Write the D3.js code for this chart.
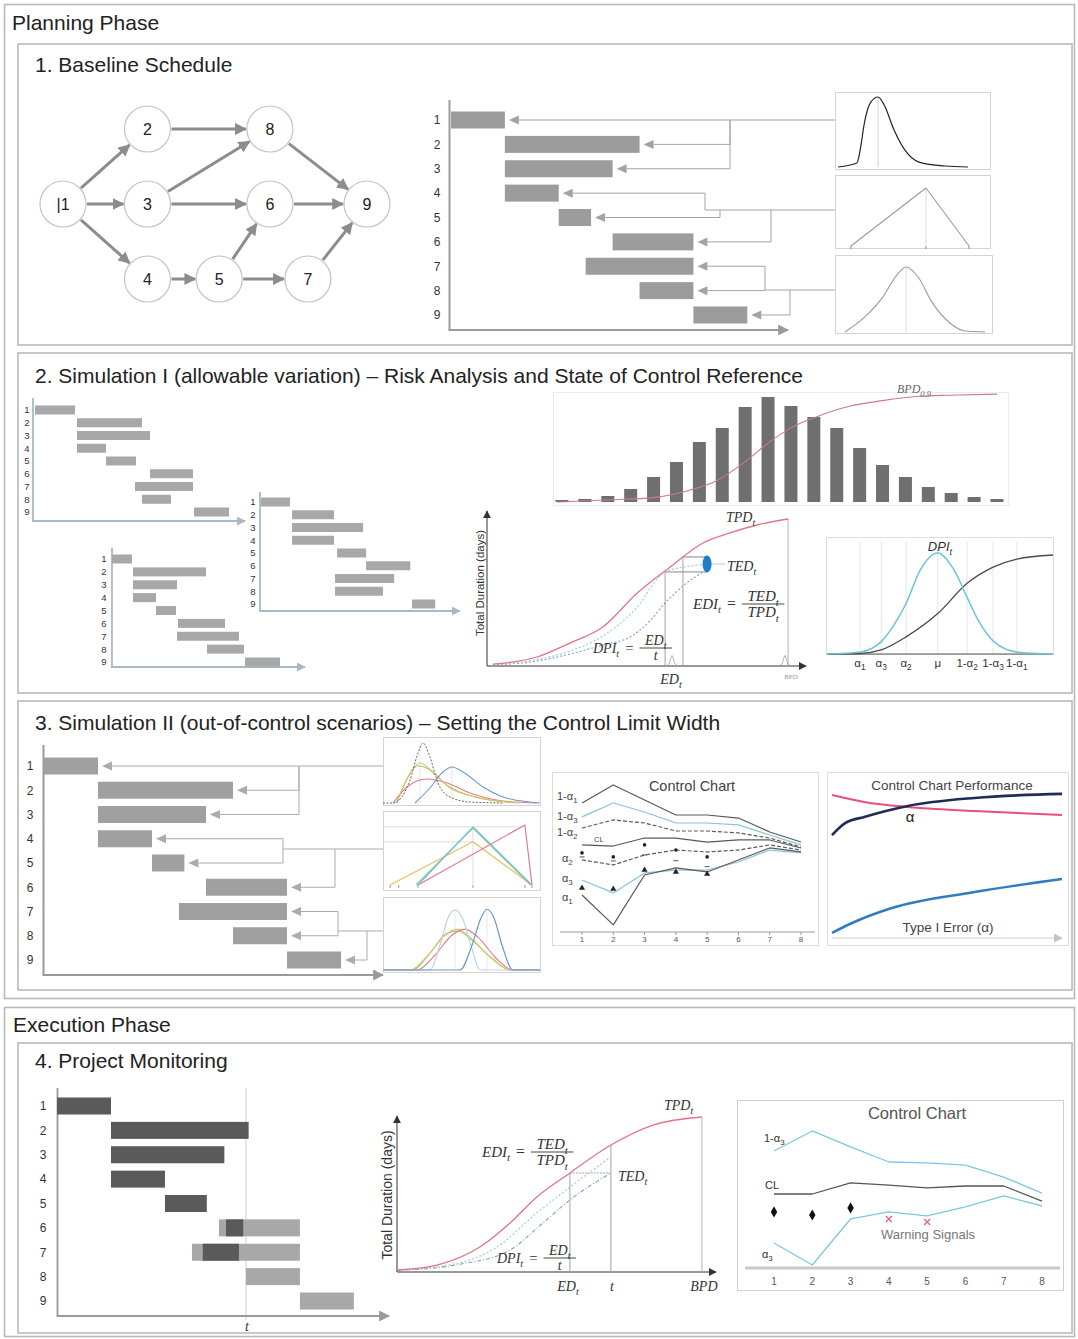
<!DOCTYPE html>
<html>
<head>
<meta charset="utf-8">
<title>Project control framework</title>
<script src="https://cdn.jsdelivr.net/npm/d3@7/dist/d3.min.js"></script>
<style>
  html, body { margin: 0; padding: 0; background: #fff; }
  svg { display: block; }
  text { font-family: "Liberation Sans", Arial, sans-serif; fill: #222; }
  text.math { font-family: "Liberation Serif", "DejaVu Serif", serif; font-style: italic; fill: #333; }
  text.eq { font-family: "Liberation Serif", "DejaVu Serif", serif; fill: #333; }
</style>
</head>
<body>
<script>
// ================= DATA =================
const phaseTitles = ["Planning Phase", "Execution Phase"];
const stepTitles = [
  "1. Baseline Schedule",
  "2. Simulation I (allowable variation) – Risk Analysis and State of Control Reference",
  "3. Simulation II (out-of-control scenarios) – Setting the Control Limit Width",
  "4. Project Monitoring"
];

// project network (activity-on-node)
const activities = ["1","2","3","4","5","6","7","8","9"];
const nodeLabels = ["|1","2","3","4","5","6","7","8","9"];
const nodeStage  = [0, 1, 1, 1, 1.85, 2.45, 2.9, 2.45, 3.6];
const nodeLevel  = [1, 0, 1, 2, 2, 1, 2, 0, 1];
const precedences = [["1","2"],["1","3"],["1","4"],["2","8"],["3","8"],["3","6"],
                     ["4","5"],["5","6"],["5","7"],["6","9"],["7","9"],["8","9"]];

// baseline schedule (days)
const baselineStart = [0, 2, 2, 2, 4, 6, 5, 7, 9];
const baselineEnd   = [2, 7, 6, 4, 5.2, 9, 9, 9, 11];

// activity duration distributions [duration %, relative density]
const durLognormal  = [[1.3,0],[13.6,5.7],[16.2,31],[18.2,60],[22.7,93],[27.3,100],[31.2,89],[37.7,53],[44.8,24],[53.9,7],[70.8,1.4],[85.7,0]];
const durTriangular = [[9.7,0],[58.4,1],[86.4,0]];
const durNormal     = [[5.8,0],[18.2,0.22],[29.9,0.52],[39.6,0.88],[45.5,1],[53.2,0.85],[62.3,0.46],[73.4,0.15],[83.1,0.02],[96.8,0]];

// three Monte Carlo runs (days)
const runAStart = [0, 2.1, 2.1, 2.1, 3.55, 5.75, 5.0, 5.35, 7.95];
const runAEnd   = [2, 5.35, 5.75, 3.55, 5.05, 7.9, 7.9, 6.8, 9.7];
const runBStart = [0, 2.14, 2.14, 2.14, 5.24, 7.24, 5.1, 5.1, 10.4];
const runBEnd   = [2, 5.03, 7.03, 5.03, 7.24, 10.28, 9.17, 8.4, 12.0];
const runCStart = [0, 2.1, 2.1, 2.1, 4.4, 6.6, 6.5, 9.5, 13.3];
const runCEnd   = [2, 9.4, 6.5, 4.4, 6.4, 11.3, 12.7, 13.2, 16.8];

// simulated project durations: frequencies and cumulative share
const durationFreq = [2,3,6,13,25,40,60,74,95,105,96,85,74,54,37,25,15,9,5,3];
const durationCum  = [[-0.2,0],[2.1,0.02],[4,0.04],[5.6,0.11],[6.8,0.2],[8,0.37],[9,0.54],[10,0.68],[11.1,0.78],[12.6,0.88],[14,0.93],[15.6,0.97],[16.9,0.98],[19,0.99]];

// simulation S-curves [time %, total duration %]
const simTPD = [[1.9,1.3],[16,6],[26.5,15.3],[37,26],[48,48.7],[58.5,66],[69,82],[77.6,88.7],[86.3,94],[96.2,98]];
const simEDa = [[1.9,1.0],[15,4],[26.5,10],[37,20],[47,37],[56.9,62.7],[63,66],[69,67.5]];
const simEDb = [[1.9,0.8],[15,3],[26.5,8],[37,14],[45.7,19.3],[52,30],[56.9,42],[63,54],[69,62.7]];
const simRefs = { ed: 56.9, t: 62.6, bpd: 96.2, edLevel: 62.7, tpdLevel: 72.7, tedX: 70.3, tedLevel: 68, edPeak: 59.1, bpdPeak: 95.2 };
const smallPeak = [[-1.8,0],[-0.9,1.5],[-0.35,5.5],[0,7],[0.35,5.5],[0.9,1.5],[1.8,0]];

// DPI distribution with control limit levels
const alphaLabels   = ["α_1","α_3","α_2","μ","1-α_2","1-α_3","1-α_1"];
const alphaPos      = [14.6, 24, 35, 49, 62, 73.5, 84];
const dpiDensity    = [[0,0],[14.6,0.02],[23.9,0.12],[30,0.3],[35,0.5],[41,0.82],[49,1],[56,0.84],[62,0.56],[67,0.33],[73.5,0.13],[84,0.02],[100,0]];
const dpiCumulative = [[0,0],[14.6,0.005],[23.9,0.04],[35,0.17],[49,0.4],[62,0.7],[73.5,0.86],[84,0.94],[100,0.98]];

// out-of-control duration scenarios
const scenTopRef    = [[0,0],[6.4,0],[17.2,37],[22.3,80.6],[25.5,96.8],[29.9,74.2],[35,32.3],[42.7,9.7],[55.4,1.6],[76.4,0]];
const scenTopYellow = [[8.9,0],[17.2,48.4],[23.6,64.5],[31.8,50],[42.7,24.2],[61.8,8.1],[87.3,0]];
const scenTopGreen  = [[8.5,0],[16,42],[22,60],[29,55],[40,30],[58,10],[85,0]];
const scenTopPink   = [[6.4,0],[15.3,25.8],[28,38.7],[40.8,32.3],[55.4,16.1],[76.4,3.2],[98,0]];
const scenTopBlue   = [[20.4,0],[29.9,24.2],[38.2,50],[43.9,58.1],[51,50],[63.7,25.8],[76.4,9.7],[93.6,1.6],[100,0]];
const scenMidBlue   = [[22.3,0],[57.3,0.97],[94.9,0]];
const scenMidGreen  = [[21,0],[57.3,0.95],[94,0]];
const scenMidYellow = [[4.5,0],[57.3,0.72],[94.9,0]];
const scenMidPink   = [[22.3,0],[90.4,1],[94.9,0]];
const scenLowRef    = [[0,0],[29.9,0],[36.3,0.4],[41.4,0.84],[45.9,0.97],[51,0.81],[56,0.4],[61.8,0],[100,0]];
const scenLowBlue   = [[0,0],[49,0],[56.7,0.4],[62.4,0.84],[66.2,0.98],[70.7,0.84],[75.8,0.4],[82.8,0],[100,0]];
const scenLowPink   = [[0,0],[21.7,0],[33.1,0.24],[43.9,0.56],[52.2,0.66],[60.5,0.53],[71.3,0.21],[82.8,0],[100,0]];
const scenLowYellow = [[0,0],[17.2,0],[28.7,0.24],[39.5,0.56],[47.1,0.66],[55.4,0.53],[68.2,0.21],[80.9,0],[100,0]];
const scenLowGreen  = [[0,0],[18.5,0],[29.9,0.27],[40,0.58],[47.8,0.63],[56.7,0.48],[69.4,0.19],[80.9,0],[100,0]];

// control chart limits per review period
const periods   = [1,2,3,4,5,6,7,8];
const limUp1    = [82.5,93.8,84.4,75,75,73.1,64.4,58.1];
const limUp3    = [73.8,82.5,76.9,70,70,68.8,62.5,56.3];
const limUp2    = [66.9,71.9,70,65,65,63.8,60.6,55];
const limCenter = [56.3,55.6,60.6,60.6,58.1,59.4,59.4,54.4];
const limLow2   = [46.9,43.8,50,53.1,51.9,53.1,56.3,53.1];
const limLow3   = [34.4,26.3,38.8,40.6,40.6,45.6,53.1,51.3];
const limLow1   = [25,6.3,37.5,41.9,39.4,46.9,54.4,51.9];
const obsDots   = [51.3,48.8,56.3,53.1,48.8];
const obsDashes = [48.8,46.3,50,46.4,42.7];
const obsTri    = [29.4,28.8,40.6,39.4,38.1];

// control chart performance vs. type I error
const perfPink = [[0,90.6],[0.14,86.3],[0.33,83.1],[0.62,80.6],[1,78.1]];
const perfNavy = [[0,65.6],[0.057,73.1],[0.14,76.9],[0.33,83.8],[0.62,88.8],[1,91.3]];
const perfBlue = [[0,4.4],[0.087,10.6],[0.26,20],[0.62,30],[1,38.1]];

// project monitoring
const actualStart = [0, 2, 2, 2, 4, 6.26, 5.4, null, null];
const actualEnd   = [2, 7.1, 6.2, 4, 5.55, 6.9, 6.74, null, null];
const statusTime  = 7;
const monTPD = [[0,1.3],[12.7,4.5],[26.3,16.1],[35.9,31.6],[44.4,48.4],[54.9,63.9],[67.9,81.9],[81.3,94.8],[96.8,100]];
const monEDa = [[0,1.3],[20,6],[31.7,16.1],[44.4,38.1],[54.9,54.8],[67.9,74.2]];
const monEDb = [[0,1.0],[20,5],[35.9,14.2],[46.3,31.6],[54.9,46.5],[67.9,63.9]];
const monRefs = { ed: 54.9, t: 67.9, bpd: 96.8, edLevel: 63.9, tpdLevel: 81.9 };
const monUpper    = [71.9,84.4,74.4,65,64.4,63.1,55.6,45.6];
const monCenter   = [45,45,51.9,50.6,48.8,50,50,40.6];
const monLower    = [14.4,0.6,29.4,33.8,31.3,36.9,43.8,37.5];
const monObserved = [33.8,31.9,36.3];
const monWarnPeriods = [4,5];
const monWarnValues  = [29.4,27.5];

// ================= DRAWING =================
const W = 1078, H = 1339;
const svg = d3.select("body").append("svg").attr("width", W).attr("height", H);
svg.append("rect").attr("width", W).attr("height", H).attr("fill", "#fff");
const defs = svg.append("defs");

function marker(id, color, size) {
  defs.append("marker").attr("id", id).attr("viewBox", "0 0 10 10")
    .attr("refX", 9).attr("refY", 5).attr("markerWidth", size).attr("markerHeight", size)
    .attr("markerUnits", "userSpaceOnUse").attr("orient", "auto")
    .append("path").attr("d", "M0,0L10,5L0,10z").attr("fill", color);
}
marker("arrNet", "#8c8c8c", 12);
marker("arrGray", "#9a9a9a", 11);
marker("arrBlue", "#a9b8c6", 9);
marker("arrDark", "#333", 8);
marker("arrLight", "#c4c4c4", 9);

// text with "_x" subscripts
function rich(sel, str, fs) {
  const parts = str.split(/_([\w.]+)/);
  let shifted = false;
  parts.forEach((p, i) => {
    if (p === "") return;
    const ts = sel.append("tspan").text(p);
    if (i % 2 === 1) { ts.attr("dy", fs * 0.3).attr("font-size", fs * 0.72); shifted = true; }
    else if (shifted) { ts.attr("dy", -fs * 0.3); shifted = false; }
  });
  return sel;
}
function label(g, x, y, str, fs, o = {}) {
  const t = g.append("text").attr("x", x).attr("y", y).attr("font-size", fs);
  if (o.anchor) t.attr("text-anchor", o.anchor);
  if (o.fill) t.style("fill", o.fill);
  if (o.cls) t.attr("class", o.cls);
  return rich(t, str, fs);
}
// "lhs = num / den" with a horizontal fraction bar at height y
function fracEq(g, x, y, lhs, num, den, fs) {
  const l = label(g, x, y + fs * 0.33, lhs, fs, { cls: "math" });
  const lw = l.node().getComputedTextLength();
  const eqX = x + lw + 6;
  g.append("text").attr("class", "eq").attr("x", eqX).attr("y", y + fs * 0.33).attr("font-size", fs * 1.05).text("=");
  const fx = eqX + fs * 0.6 + 6;
  const n = label(g, 0, y - 3, num, fs, { cls: "math", anchor: "middle" });
  const d = label(g, 0, y + fs * 0.88, den, fs, { cls: "math", anchor: "middle" });
  const w = Math.max(n.node().getComputedTextLength(), d.node().getComputedTextLength()) + 11;
  n.attr("x", fx + w / 2); d.attr("x", fx + w / 2);
  g.append("line").attr("x1", fx).attr("x2", fx + w).attr("y1", y).attr("y2", y).attr("stroke", "#333").attr("stroke-width", 0.9);
}
function curve(g, pts, xs, ys, stroke, width, dash, type) {
  return g.append("path").datum(pts)
    .attr("d", d3.line().x(d => xs(d[0])).y(d => ys(d[1])).curve(type || d3.curveMonotoneX))
    .attr("fill", "none").attr("stroke", stroke).attr("stroke-width", width)
    .attr("stroke-dasharray", dash || null).attr("stroke-linejoin", "round");
}
function seg(g, x1, y1, x2, y2, stroke, width, dash) {
  return g.append("line").attr("x1", x1).attr("y1", y1).attr("x2", x2).attr("y2", y2)
    .attr("stroke", stroke).attr("stroke-width", width).attr("stroke-dasharray", dash || null);
}
function frame(g, x, y, w, h, stroke, width) {
  return g.append("rect").attr("x", x).attr("y", y).attr("width", w).attr("height", h)
    .attr("fill", "none").attr("stroke", stroke).attr("stroke-width", width || 1);
}

// ---------- panels & headings ----------
const panels = svg.append("g");
frame(panels, 4.5, 4.5, 1070, 994, "#b9b9b9", 1.6);
frame(panels, 18, 44, 1054, 301, "#b9b9b9", 1.6);
frame(panels, 18, 353, 1054, 340, "#b9b9b9", 1.6);
frame(panels, 18, 701, 1054, 289, "#b9b9b9", 1.6);
frame(panels, 4.5, 1007.5, 1070, 329, "#b9b9b9", 1.6);
frame(panels, 18, 1043, 1054, 290, "#b9b9b9", 1.6);
label(panels, 12, 30, phaseTitles[0], 21);
label(panels, 13, 1032, phaseTitles[1], 21);
[72, 383, 730, 1068].forEach((y, i) => label(panels, 35, y, stepTitles[i], 21));

// ---------- gantt helper ----------
function gantt(g, o) {
  seg(g, o.axisX, o.axisTop, o.axisX, o.axisBottom, o.axisColor, o.axisW);
  seg(g, o.axisX - o.axisW / 2, o.axisBottom, o.axisEnd, o.axisBottom, o.axisColor, o.axisW).attr("marker-end", `url(#${o.marker})`);
  activities.forEach((a, i) => {
    label(g, o.labelX, o.ys(a) + o.labelFs * 0.36, a, o.labelFs, { anchor: "middle", fill: "#333" });
  });
  const bars = activities.map((a, i) => ({ a, s: o.start[i], e: o.end[i] })).filter(d => d.s != null);
  g.append("g").selectAll("rect").data(bars).join("rect")
    .attr("x", d => o.xs(d.s)).attr("width", d => o.xs(d.e) - o.xs(d.s))
    .attr("y", d => o.ys(d.a) - o.h / 2).attr("height", o.h).attr("fill", o.fill);
}
// connectors from distribution boxes to bar ends
function connectors(g, xs, ys, ends, groups, boxX, color) {
  groups.forEach(gr => {
    gr.rows.forEach((r, k) => {
      const y = ys(activities[r]), xe = xs(ends[r]);
      g.append("path").attr("d", `M${xe + 4},${y}L${xe + 14},${y - 4.5}L${xe + 14},${y + 4.5}Z`).attr("fill", color);
      g.append("path").attr("d", `M${xe + 14},${y}H${gr.stubs[k]}V${gr.trunkY}`)
        .attr("fill", "none").attr("stroke", color).attr("stroke-width", 1);
    });
    seg(g, d3.min(gr.stubs), gr.trunkY, boxX, gr.trunkY, color, 1);
  });
}

// ================= 1. Baseline schedule =================
const s1 = svg.append("g");
{
  const nx = d3.scaleLinear([0, 3.6], [63, 367]);
  const ny = d3.scaleLinear([0, 2], [129, 279]);
  const pos = {};
  activities.forEach((a, i) => pos[a] = [nx(nodeStage[i]), ny(nodeLevel[i])]);
  const r = 23;
  precedences.forEach(([f, t]) => {
    const [x1, y1] = pos[f], [x2, y2] = pos[t];
    const L = Math.hypot(x2 - x1, y2 - y1), ux = (x2 - x1) / L, uy = (y2 - y1) / L;
    seg(s1, x1 + ux * (r + 1), y1 + uy * (r + 1), x2 - ux * (r + 1), y2 - uy * (r + 1), "#8c8c8c", 3)
      .attr("marker-end", "url(#arrNet)");
  });
  activities.forEach((a, i) => {
    s1.append("circle").attr("cx", pos[a][0]).attr("cy", pos[a][1]).attr("r", r)
      .attr("fill", "#fff").attr("stroke", "#c4c4c4").attr("stroke-width", 1.2);
    label(s1, pos[a][0], pos[a][1] + 6, nodeLabels[i], 16, { anchor: "middle" });
  });

  const xs = d3.scaleLinear([0, 12.4], [451, 785]);
  const ys = d3.scalePoint(activities, [120, 315]);
  gantt(s1, { xs, ys, start: baselineStart, end: baselineEnd, h: 17, fill: "#9c9c9c",
    axisX: 449.5, axisTop: 100, axisBottom: 330, axisEnd: 788, axisColor: "#9a9a9a", axisW: 2,
    marker: "arrGray", labelX: 437, labelFs: 12 });
  connectors(s1, xs, ys, baselineEnd, [
    { rows: [0, 1, 2], stubs: [730, 730, 730], trunkY: ys("1") },
    { rows: [3, 4, 5], stubs: [705, 720, 771], trunkY: 210 },
    { rows: [6, 7, 8], stubs: [765, 765, 790], trunkY: 290 }
  ], 835, "#a3a3a3");

  // distribution boxes
  const bx = d3.scaleLinear([0, 100], [836, 990]);
  frame(s1, 835.5, 92.5, 155, 77, "#d4d4d4");
  frame(s1, 835.5, 175.5, 155, 73, "#d4d4d4");
  frame(s1, 835.5, 255.5, 157, 78, "#d4d4d4");
  const by1 = d3.scaleLinear([0, 100], [167, 97]);
  seg(s1, bx(27.3), by1(0), bx(27.3), by1(100), "#c8c8c8", 0.8);
  curve(s1, durLognormal, bx, by1, "#222", 1.2);
  const by2 = d3.scaleLinear([0, 1], [246, 188]);
  seg(s1, bx(58.4), by2(0), bx(58.4), by2(1), "#cfcfcf", 0.8);
  durTriangular.forEach(p => seg(s1, bx(p[0]), by2(0), bx(p[0]), by2(0) + 3, "#888", 1));
  curve(s1, durTriangular, bx, by2, "#9a9a9a", 1.1, null, d3.curveLinear);
  const by3 = d3.scaleLinear([0, 1], [332, 267]);
  seg(s1, bx(45.5), by3(0), bx(45.5), by3(1), "#d0d0d0", 0.8);
  curve(s1, durNormal, bx, by3, "#9a9a9a", 1.1);
}

// ================= 2. Simulation I =================
const s2 = svg.append("g");
{
  const runs = [
    { start: runAStart, end: runAEnd, dom: 10.35, x: [35, 242], rows: [410, 512], axisX: 33, top: 398, bottom: 521, labelX: 27 },
    { start: runBStart, end: runBEnd, dom: 13.5, x: [261, 457], rows: [502, 604], axisX: 260, top: 492, bottom: 611, labelX: 253 },
    { start: runCStart, end: runCEnd, dom: 19, x: [112, 302], rows: [559, 662], axisX: 112, top: 548, bottom: 667, labelX: 104 }
  ];
  runs.forEach(r => {
    const g = s2.append("g");
    const xs = d3.scaleLinear([0, r.dom], r.x);
    const ys = d3.scalePoint(activities, r.rows);
    gantt(g, { xs, ys, start: r.start, end: r.end, h: 9, fill: "#a8a8a8",
      axisX: r.axisX, axisTop: r.top, axisBottom: r.bottom, axisEnd: r.x[1] + 3, axisColor: "#a9b8c6", axisW: 1.8,
      marker: "arrBlue", labelX: r.labelX, labelFs: 9.5 });
  });

  // project duration histogram
  const hx = d3.scaleLinear([0, 19], [562, 997]);
  const hy = d3.scaleLinear([0, 105], [502, 397]);
  const cy = d3.scaleLinear([0, 1], [502, 393]);
  frame(s2, 553.5, 392.5, 455, 113, "#ececec");
  s2.append("g").selectAll("rect").data(durationFreq).join("rect")
    .attr("x", (d, i) => hx(i) - 6.5).attr("width", 13)
    .attr("y", d => hy(d)).attr("height", d => hy(0) - hy(d)).attr("fill", "#6f6f6f");
  curve(s2, durationCum, hx, cy, "#c97c88", 1.1);
  label(s2, 897, 393, "BPD_0.9", 12, { cls: "math", fill: "#666" });

  // S-curve
  const sx = d3.scaleLinear([0, 100], [487, 800]);
  const sy = d3.scaleLinear([0, 100], [666, 516]);
  seg(s2, sx(0), sy(0), sx(0), 511, "#333", 1).attr("marker-end", "url(#arrDark)");
  seg(s2, sx(0), sy(0), 806, sy(0), "#333", 1).attr("marker-end", "url(#arrDark)");
  label(s2, 0, 0, "Total Duration (days)", 11.5, { anchor: "middle", fill: "#333" })
    .attr("transform", `translate(484,583) rotate(-90)`);
  seg(s2, sx(simRefs.ed), sy(simRefs.edLevel), sx(simRefs.ed), sy(0), "#999", 0.9);
  seg(s2, sx(simRefs.t), sy(simRefs.tpdLevel), sx(simRefs.t), sy(0), "#999", 0.9);
  seg(s2, sx(simRefs.bpd), sy(98), sx(simRefs.bpd), sy(0), "#aaa", 0.9);
  seg(s2, sx(simRefs.t), sy(simRefs.tpdLevel), sx(simRefs.tedX), sy(simRefs.tpdLevel), "#777", 0.9);
  seg(s2, sx(simRefs.ed), sy(simRefs.edLevel), sx(simRefs.tedX), sy(simRefs.edLevel), "#777", 0.9);
  seg(s2, sx(simRefs.tedX) + 4, sy(simRefs.tedLevel), sx(simRefs.tedX) + 18, sy(simRefs.tedLevel), "#c8c8c8", 1);
  curve(s2, simEDb, sx, sy, "#7f9fd0", 1.1, "2,2");
  curve(s2, simEDa, sx, sy, "#93cbe2", 1.1, "2,2");
  curve(s2, simTPD, sx, sy, "#e07585", 1.3);
  s2.append("ellipse").attr("cx", sx(simRefs.tedX)).attr("cy", sy(simRefs.tedLevel)).attr("rx", 4.5).attr("ry", 8.5).attr("fill", "#1d7fc8");
  [simRefs.edPeak, simRefs.bpdPeak].forEach(c => {
    curve(s2, smallPeak.map(p => [c + p[0], p[1]]), sx, sy, "#aaa", 0.9, null, d3.curveLinear);
  });
  label(s2, 726, 522, "TPD_t", 14, { cls: "math" });
  label(s2, 727, 571, "TED_t", 14, { cls: "math" });
  label(s2, 671, 684, "ED_t", 14, { cls: "math", anchor: "middle" });
  label(s2, 791, 679, "BPD", 7, { cls: "eq", anchor: "middle", fill: "#999" });
  fracEq(s2, 693, 604, "EDI_t", "TED_t", "TPD_t", 15);
  fracEq(s2, 593, 648, "DPI_t", "ED_t", "t", 14);

  // DPI distribution
  const dx = d3.scaleLinear([0, 100], [827, 1053]);
  const dy = d3.scaleLinear([0, 1], [654, 553]);
  frame(s2, 826.5, 537.5, 227, 117, "#dedede");
  alphaPos.forEach(p => seg(s2, dx(p), 541, dx(p), dy(0), "#e6e6e6", 1));
  seg(s2, dx(0), dy(0), dx(100), dy(0), "#555", 1);
  curve(s2, dpiCumulative, dx, dy, "#4a4a4a", 1.3);
  curve(s2, dpiDensity, dx, dy, "#6cc4db", 1.5);
  label(s2, 940, 551, "DPI_t", 13, { anchor: "middle", fill: "#333" }).style("font-style", "italic");
  alphaLabels.forEach((a, i) => label(s2, dx(alphaPos[i]), 667, a, 11.5, { anchor: "middle", fill: "#333" }));
}

// ================= 3. Simulation II =================
const s3 = svg.append("g");
{
  const xs = d3.scaleLinear([0, 12.5], [44, 381.5]);
  const ys = d3.scalePoint(activities, [766, 960]);
  gantt(s3, { xs, ys, start: baselineStart, end: baselineEnd, h: 17, fill: "#a0a0a0",
    axisX: 43.5, axisTop: 745, axisBottom: 975, axisEnd: 383, axisColor: "#9a9a9a", axisW: 2,
    marker: "arrGray", labelX: 30, labelFs: 12 });
  connectors(s3, xs, ys, baselineEnd, [
    { rows: [0, 1, 2], stubs: [299, 299, 299], trunkY: ys("1") },
    { rows: [3, 4, 5], stubs: [283, 283, 335], trunkY: 849 },
    { rows: [6, 7, 8], stubs: [338, 338, 367], trunkY: 931 }
  ], 383, "#ababab");

  const bx = d3.scaleLinear([0, 100], [383, 540]);
  frame(s3, 383.5, 737.5, 157, 68, "#d4d4d4");
  frame(s3, 383.5, 811.5, 157, 79, "#d4d4d4");
  frame(s3, 383.5, 897.5, 157, 75, "#d4d4d4");

  const ya = d3.scaleLinear([0, 100], [803, 741]);
  seg(s3, bx(23.6), ya(0), bx(23.6), ya(100), "#e0e0e0", 0.8);
  seg(s3, bx(43.9), ya(0), bx(43.9), ya(60), "#e0e0e0", 0.8);
  curve(s3, scenTopPink, bx, ya, "#e07a8c", 1.1);
  curve(s3, scenTopGreen, bx, ya, "#8cc98a", 1.1);
  curve(s3, scenTopYellow, bx, ya, "#e3c35a", 1.1);
  curve(s3, scenTopBlue, bx, ya, "#6b98cf", 1.1);
  curve(s3, scenTopRef, bx, ya, "#666", 1, "2,1.5");

  const yb = d3.scaleLinear([0, 1], [885, 825]);
  seg(s3, bx(0), yb(0.97), bx(90), yb(0.97), "#d4d4d4", 0.8);
  seg(s3, bx(0), yb(0.72), bx(57.3), yb(0.72), "#d4d4d4", 0.8);
  seg(s3, bx(57.3), yb(0), bx(57.3), yb(0.97), "#d4d4d4", 0.8);
  [4.5, 10, 22.3, 57.3, 90.4, 94.9].forEach(v => seg(s3, bx(v), yb(0), bx(v), yb(0) + 3, "#999", 1));
  curve(s3, scenMidYellow, bx, yb, "#e3c35a", 1.2, null, d3.curveLinear);
  curve(s3, scenMidPink, bx, yb, "#e07a8c", 1.2, null, d3.curveLinear);
  curve(s3, scenMidGreen, bx, yb, "#8cc98a", 1.2, null, d3.curveLinear);
  curve(s3, scenMidBlue, bx, yb, "#78c0dc", 1.2, null, d3.curveLinear);

  const yc = d3.scaleLinear([0, 1], [970, 908]);
  seg(s3, bx(45.9), yc(0), bx(45.9), yc(0.97), "#e2e2e2", 0.8);
  seg(s3, bx(66.2), yc(0), bx(66.2), yc(0.98), "#e2e2e2", 0.8);
  curve(s3, scenLowGreen, bx, yc, "#8cc98a", 1.1);
  curve(s3, scenLowYellow, bx, yc, "#e3c35a", 1.1);
  curve(s3, scenLowPink, bx, yc, "#e07a8c", 1.1);
  curve(s3, scenLowRef, bx, yc, "#bcd3e6", 1.2);
  curve(s3, scenLowBlue, bx, yc, "#6b98cf", 1.2);

  // control chart with nested limits
  frame(s3, 552.5, 772.5, 266, 173, "#dcdcdc");
  label(s3, 692, 791, "Control Chart", 14.5, { anchor: "middle", fill: "#444" });
  const cx = d3.scaleLinear([1, 8], [582, 801]);
  const cy = d3.scaleLinear([0, 100], [935, 775]);
  seg(s3, 560, 932, 815, 932, "#9a9a9a", 1);
  periods.forEach(p => {
    seg(s3, cx(p), 932, cx(p), 935, "#9a9a9a", 1);
    label(s3, cx(p), 942, String(p), 8, { anchor: "middle", fill: "#555" });
  });
  const lines = [
    [limUp1, "#595959", null], [limUp3, "#86c4de", null], [limUp2, "#595959", "4,2"],
    [limCenter, "#595959", null], [limLow2, "#595959", "4,2"], [limLow3, "#86c4de", null], [limLow1, "#595959", null]
  ];
  lines.forEach(([v, c, dsh]) => curve(s3, periods.map((p, i) => [p, v[i]]), cx, cy, c, 1.2, dsh, d3.curveLinear));
  obsDots.forEach((v, i) => s3.append("circle").attr("cx", cx(periods[i])).attr("cy", cy(v)).attr("r", 1.8).attr("fill", "#222"));
  obsDashes.forEach((v, i) => seg(s3, cx(periods[i]) - 2.5, cy(v), cx(periods[i]) + 2.5, cy(v), "#555", 1));
  obsTri.forEach((v, i) => s3.append("path").attr("d", d3.symbol(d3.symbolTriangle, 16)())
    .attr("transform", `translate(${cx(periods[i])},${cy(v)})`).attr("fill", "#222"));
  label(s3, 557, 800, "1-α_1", 11, { fill: "#444" });
  label(s3, 557, 820, "1-α_3", 11, { fill: "#444" });
  label(s3, 557, 836, "1-α_2", 11, { fill: "#444" });
  label(s3, 594, 842, "CL", 7.5, { fill: "#444" });
  label(s3, 562, 862, "α_2", 11, { fill: "#444" });
  label(s3, 562, 882, "α_3", 11, { fill: "#444" });
  label(s3, 562, 901, "α_1", 11, { fill: "#444" });

  // control chart performance
  frame(s3, 827.5, 772.5, 241, 173, "#dcdcdc");
  label(s3, 952, 790, "Control Chart Performance", 13.5, { anchor: "middle", fill: "#444" });
  const px = d3.scaleLinear([0, 1], [832, 1062]);
  const py = d3.scaleLinear([0, 100], [940, 780]);
  seg(s3, 832, 938, 1062, 938, "#cfcfcf", 1).attr("marker-end", "url(#arrLight)");
  curve(s3, perfPink, px, py, "#e7507c", 2);
  curve(s3, perfNavy, px, py, "#1f2c55", 2.6);
  curve(s3, perfBlue, px, py, "#2f7cc0", 2.6);
  label(s3, 910, 822, "α", 15, { anchor: "middle", fill: "#222" });
  label(s3, 948, 932, "Type I Error (α)", 13.5, { anchor: "middle", fill: "#444" });
}

// ================= 4. Project monitoring =================
const s4 = svg.append("g");
{
  const xs = d3.scaleLinear([0, 12.3], [57, 389]);
  const ys = d3.scalePoint(activities, [1106, 1301]);
  seg(s4, xs(statusTime), 1088, xs(statusTime), 1320, "#cfcfcf", 1);
  const plannedStart = baselineStart.map((s, i) => actualEnd[i] != null && i < 5 ? null : s);
  gantt(s4, { xs, ys, start: plannedStart, end: baselineEnd, h: 17, fill: "#a8a8a8",
    axisX: 57.5, axisTop: 1088, axisBottom: 1316, axisEnd: 389, axisColor: "#9a9a9a", axisW: 1.8,
    marker: "arrGray", labelX: 43, labelFs: 12 });
  const done = activities.map((a, i) => ({ a, s: actualStart[i], e: actualEnd[i] })).filter(d => d.s != null);
  s4.append("g").selectAll("rect").data(done).join("rect")
    .attr("x", d => xs(d.s)).attr("width", d => xs(d.e) - xs(d.s))
    .attr("y", d => ys(d.a) - 8.5).attr("height", 17).attr("fill", "#5a5a5a");
  label(s4, xs(statusTime) + 1, 1331, "t", 14, { cls: "math", anchor: "middle" });

  // S-curve
  const mx = d3.scaleLinear([0, 100], [397, 712]);
  const my = d3.scaleLinear([0, 100], [1272, 1117]);
  seg(s4, mx(0), my(0), mx(0), 1116, "#333", 1).attr("marker-end", "url(#arrDark)");
  seg(s4, mx(0), my(0), 716, my(0), "#333", 1).attr("marker-end", "url(#arrDark)");
  label(s4, 0, 0, "Total Duration (days)", 14, { anchor: "middle", fill: "#333" })
    .attr("transform", `translate(392,1195) rotate(-90)`);
  seg(s4, mx(monRefs.ed), my(monRefs.edLevel), mx(monRefs.ed), my(0), "#999", 0.9);
  seg(s4, mx(monRefs.t), my(monRefs.tpdLevel), mx(monRefs.t), my(0), "#999", 0.9);
  seg(s4, mx(monRefs.bpd), my(100), mx(monRefs.bpd), my(0), "#aaa", 0.9);
  seg(s4, mx(monRefs.ed), my(monRefs.edLevel), mx(monRefs.t), my(monRefs.edLevel), "#aaa", 1, "2,1");
  curve(s4, monEDb, mx, my, "#7f9fd0", 1.1, "4,2,1,2");
  curve(s4, monEDa, mx, my, "#98d39a", 1.1, "2,2");
  curve(s4, monTPD, mx, my, "#e07585", 1.3);
  label(s4, 664, 1110, "TPD_t", 14, { cls: "math" });
  label(s4, 618, 1181, "TED_t", 14, { cls: "math" });
  label(s4, 568, 1291, "ED_t", 14, { cls: "math", anchor: "middle" });
  label(s4, mx(monRefs.t) + 1, 1291, "t", 14, { cls: "math", anchor: "middle" });
  label(s4, mx(monRefs.bpd) + 2, 1291, "BPD", 14, { cls: "math", anchor: "middle" });
  fracEq(s4, 482, 1152, "EDI_t", "TED_t", "TPD_t", 15);
  fracEq(s4, 497, 1258, "DPI_t", "ED_t", "t", 14);

  // monitoring control chart
  frame(s4, 737.5, 1100.5, 326, 190, "#cfcfcf");
  label(s4, 917, 1119, "Control Chart", 16.5, { anchor: "middle", fill: "#555" });
  const kx = d3.scaleLinear([1, 8], [774, 1042]);
  const ky = d3.scaleLinear([0, 100], [1266, 1106]);
  seg(s4, 745, 1268, 1060, 1268, "#c8c8c8", 3);
  periods.forEach(p => label(s4, kx(p), 1285, String(p), 10, { anchor: "middle", fill: "#555" }));
  curve(s4, periods.map((p, i) => [p, monUpper[i]]), kx, ky, "#7ec8df", 1.3, null, d3.curveLinear);
  curve(s4, periods.map((p, i) => [p, monLower[i]]), kx, ky, "#7ec8df", 1.3, null, d3.curveLinear);
  curve(s4, periods.map((p, i) => [p, monCenter[i]]), kx, ky, "#555", 1.3, null, d3.curveLinear);
  monObserved.forEach((v, i) => s4.append("path").attr("d", d3.symbol(d3.symbolDiamond, 36)())
    .attr("transform", `translate(${kx(periods[i])},${ky(v)})`).attr("fill", "#111"));
  monWarnPeriods.forEach((p, i) => {
    const x = kx(p), y = ky(monWarnValues[i]);
    s4.append("path").attr("d", `M${x - 3},${y - 3}L${x + 3},${y + 3}M${x - 3},${y + 3}L${x + 3},${y - 3}`)
      .attr("stroke", "#e0607a").attr("stroke-width", 1.2);
  });
  label(s4, 928, 1239, "Warning Signals", 13, { anchor: "middle", fill: "#777" });
  label(s4, 764, 1142, "1-α_3", 11, { fill: "#333" });
  label(s4, 765, 1189, "CL", 11, { fill: "#333" });
  label(s4, 762, 1258, "α_3", 11, { fill: "#333" });
}
</script>
</body>
</html>
